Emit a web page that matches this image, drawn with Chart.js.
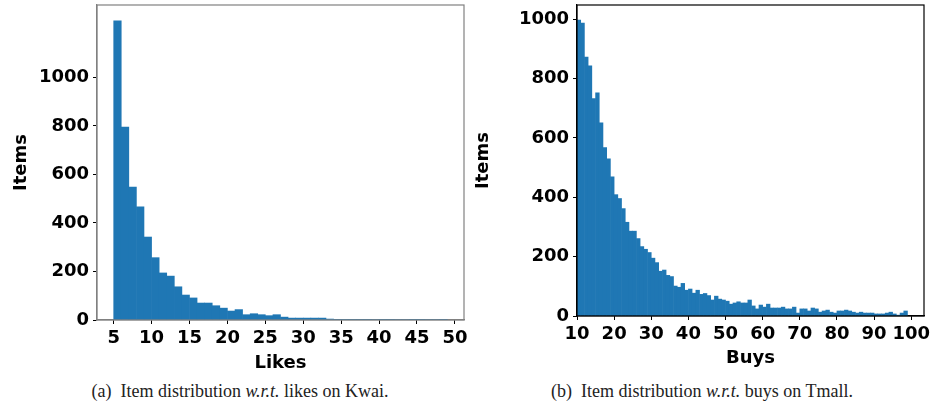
<!DOCTYPE html>
<html>
<head>
<meta charset="utf-8">
<script src="https://cdn.jsdelivr.net/npm/chart.js@4.4.0/dist/chart.umd.min.js"></script>
<style>
  html, body { margin: 0; padding: 0; background: #fff; }
  #wrap { position: relative; width: 933px; height: 407px; overflow: hidden; }
  .box { position: absolute; top: 0; height: 372px; }
  #boxA { left: 0; width: 470px; }
  #boxB { left: 470px; width: 463px; }
  .cap { position: absolute; top: 381px; font-family: "Liberation Serif", "DejaVu Serif", serif; font-size: 18px; color: #222; white-space: nowrap; transform: translateX(-50%); }
  #capA { left: 240px; }
  #capB { left: 702px; }
</style>
</head>
<body>
<div id="wrap">
  <div class="box" id="boxA"><canvas id="cA"></canvas></div>
  <div class="box" id="boxB"><canvas id="cB"></canvas></div>
  <div class="cap" id="capA">(a)&nbsp; Item distribution <i>w.r.t.</i> likes on Kwai.</div>
  <div class="cap" id="capB">(b)&nbsp; Item distribution <i>w.r.t.</i> buys on Tmall.</div>
</div>
<script>
// ---- Data ----
const likesBins = [5,6,7,8,9,10,11,12,13,14,15,16,17,18,19,20,21,22,23,24,25,26,27,28,29,30,31,32,33,34,35,36,37,38,39,40,41,42,43,44,45,46,47,48];
const likesCounts = [1233,795,548,466,342,257,194,181,137,103,91,70,70,59,49,37,43,22,26,22,18,22,12,8,8,8,8,8,4,3,3,3,3,3,2,3,3,2,2,3,3,2,2,3];
const buysBins = [10,11,12,13,14,15,16,17,18,19,20,21,22,23,24,25,26,27,28,29,30,31,32,33,34,35,36,37,38,39,40,41,42,43,44,45,46,47,48,49,50,51,52,53,54,55,56,57,58,59,60,61,62,63,64,65,66,67,68,69,70,71,72,73,74,75,76,77,78,79,80,81,82,83,84,85,86,87,88,89,90,91,92,93,94,95,96,97,98];
const buysCounts = [997,987,873,843,733,752,651,568,530,469,409,396,362,316,286,286,261,234,225,214,195,180,151,155,137,133,101,97,110,87,91,77,87,73,76,69,54,67,57,54,50,40,44,48,44,44,54,34,24,37,30,40,27,27,27,30,24,24,30,10,24,24,17,27,24,13,17,20,13,10,17,17,20,17,13,10,13,10,10,10,7,7,7,10,13,7,3,10,17];
const likesTicks = [5,10,15,20,25,30,35,40,45,50];
const buysTicks = [10,20,30,40,50,60,70,80,90,100];
const countTicks = [0,200,400,600,800,1000];

const BAR = '#1f77b4';
const FONT = { family: '"DejaVu Sans", sans-serif', size: 18, weight: 'bold' };

function frame(color) {
  return {
    id: 'frame',
    afterDatasetsDraw(chart) {
      const a = chart.chartArea, ctx = chart.ctx;
      ctx.save();
      ctx.strokeStyle = color;
      ctx.lineWidth = 1.2;
      ctx.strokeRect(a.left, a.top, a.right - a.left, a.bottom - a.top);
      ctx.restore();
    }
  };
}

function makeChart(id, bins, counts, opts) {
  const data = bins.map((b, i) => ({ x: b + 0.5, y: counts[i] }));
  return new Chart(document.getElementById(id), {
    type: 'bar',
    data: { datasets: [{ data, backgroundColor: BAR, borderWidth: 0, barPercentage: 1, categoryPercentage: 1, inflateAmount: 0.3 }] },
    options: {
      responsive: true, maintainAspectRatio: false, animation: false,
      layout: { padding: { left: 0, right: opts.padRight, top: 5, bottom: 0 } },
      plugins: { legend: { display: false }, tooltip: { enabled: false } },
      scales: {
        x: {
          type: 'linear', offset: false, min: opts.xmin, max: opts.xmax,
          afterBuildTicks: ax => { ax.ticks = opts.xTicks.map(v => ({ value: v })); },
          afterFit: ax => { ax.height = opts.xAxisH; ax.paddingLeft = 0; ax.paddingRight = 0; },
          grid: { display: true, drawOnChartArea: false, drawTicks: true, tickLength: 4, tickColor: '#000', offset: false },
          border: { display: true, color: opts.frameColor, width: 1.2 },
          ticks: { color: '#000', font: FONT, padding: 4, maxRotation: 0, autoSkip: false, callback: v => String(v) },
          title: { display: true, text: opts.xTitle, color: '#000', font: FONT, padding: { top: 0, bottom: opts.xTitlePad } }
        },
        y: {
          type: 'linear', min: 0, max: opts.ymax,
          afterBuildTicks: ax => { ax.ticks = countTicks.map(v => ({ value: v })); },
          afterFit: ax => { ax.width = opts.yAxisW; ax.paddingTop = 0; ax.paddingBottom = 0; },
          grid: { display: true, drawOnChartArea: false, drawTicks: true, tickLength: 4, tickColor: '#000' },
          border: { display: true, color: opts.frameColor, width: 1.2 },
          ticks: { color: '#000', font: FONT, padding: 4, callback: v => String(v) },
          title: { display: true, text: 'Items', color: '#000', font: FONT, padding: { top: opts.yTitlePad, bottom: 0 } }
        }
      }
    },
    plugins: [frame(opts.frameColor)]
  });
}

makeChart('cA', likesBins, likesCounts, {
  xmin: 2.8, xmax: 51.2, ymax: 1298, xTicks: likesTicks, xTitle: 'Likes',
  padRight: 6, xAxisH: 52, yAxisW: 97, xTitlePad: -2, yTitlePad: 11, frameColor: '#808080'
});
makeChart('cB', buysBins, buysCounts, {
  xmin: 10, xmax: 103.45, ymax: 1048, xTicks: buysTicks, xTitle: 'Buys',
  padRight: 9, xAxisH: 56, yAxisW: 107, xTitlePad: 3, yTitlePad: 3, frameColor: '#000'
});
</script>
</body>
</html>
